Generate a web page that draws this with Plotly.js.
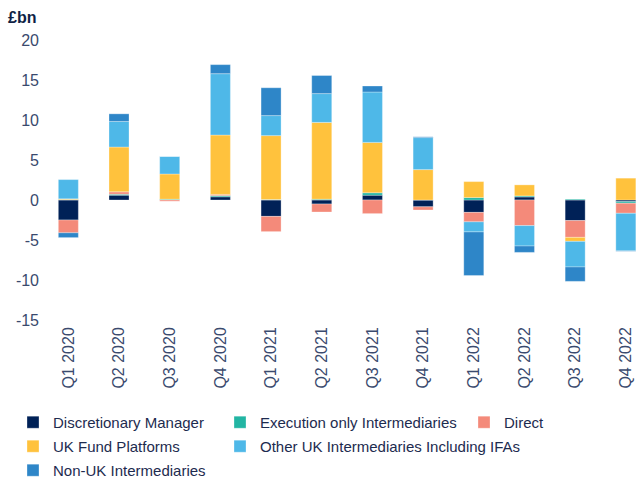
<!DOCTYPE html>
<html>
<head>
<meta charset="utf-8">
<script src="https://cdn.plot.ly/plotly-3.0.1.min.js"></script>
<style>html,body{margin:0;padding:0;background:#fff;}#chart{width:638px;height:478px;}</style>
</head>
<body>
<div id="chart"></div>
<script>
const quarters = ["Q1 2020","Q2 2020","Q3 2020","Q4 2020","Q1 2021","Q2 2021","Q3 2021","Q4 2021","Q1 2022","Q2 2022","Q3 2022","Q4 2022"];
const discretionary = [-2.5, 0.6, 0, 0.4, -2.05, -0.5, 0.6, -0.85, -1.55, 0.38, -2.57, -0.2];
const executionOnly = [0.05, 0.12, 0.1, 0.15, 0.05, 0.1, 0.3, 0, 0.3, 0.13, 0.1, -0.2];
const direct = [-1.6, 0.3, -0.15, 0.15, -1.9, -1.0, -1.7, -0.4, -1.18, -3.2, -2.1, -1.26];
const ukFundPlatforms = [0.1, 5.6, 3.15, 7.42, 8.0, 9.6, 6.3, 3.8, 2.0, 1.38, -0.5, 2.73];
const otherUK = [2.4, 3.2, 2.2, 7.67, 2.5, 3.6, 6.3, 4.0, -1.26, -2.55, -3.2, -4.7];
const nonUK = [-0.6, 0.95, 0, 1.13, 3.48, 2.26, 0.75, 0.1, -5.45, -0.8, -1.8, -0.05];
const yTickVals = [-15, -10, -5, 0, 5, 10, 15, 20];
const yTickText = ["-15", "-10", "-5", "0", "5", "10", "15", "20"];

const names = ["Discretionary Manager","Execution only Intermediaries","Direct","UK Fund Platforms","Other UK Intermediaries Including IFAs","Non-UK Intermediaries"];
const colors = ["#002157","#22b5a3","#f48a7a","#ffc23d","#4eb8e8","#2e86c8"];
const legendIds = ["legend","legend2","legend3","legend","legend2","legend"];
const series = [discretionary, executionOnly, direct, ukFundPlatforms, otherUK, nonUK];

const traces = series.map((vals, i) => ({
  type: "bar",
  name: names[i],
  x: quarters,
  y: vals,
  width: 0.395,
  legend: legendIds[i],
  legendgroup: "g" + i,
  marker: {color: colors[i], line: {color: "rgba(255,255,255,0.6)", width: 0.5}},
  hoverinfo: "x+y+name"
}));

const legendFont = {family: "Liberation Sans, Arial, sans-serif", size: 15, color: "#1d2b4f"};
const legendBase = {orientation: "v", yanchor: "top", xanchor: "left", y: -0.307, font: legendFont, bgcolor: "rgba(0,0,0,0)", tracegroupgap: 1.5, traceorder: "grouped"};

const layout = {
  width: 638, height: 478,
  margin: {l: 43, r: 0, t: 40, b: 158, autoexpand: false},
  paper_bgcolor: "#fff", plot_bgcolor: "#fff",
  barmode: "relative",
  showlegend: true,
  font: {family: "Liberation Sans, Arial, sans-serif", color: "#3a4a6e"},
  xaxis: {
    type: "category",
    range: [-0.5, 11.24],
    tickangle: -90,
    automargin: false,
    ticklabelstandoff: 3,
    tickfont: {size: 16, color: "#3a4a6e"},
    showgrid: false, zeroline: false, showline: false, ticks: ""
  },
  yaxis: {
    range: [-15, 20],
    automargin: false,
    ticklabelstandoff: 3,
    tickmode: "array",
    tickvals: yTickVals,
    ticktext: yTickText,
    tickfont: {size: 16, color: "#3a4a6e"},
    showgrid: false, zeroline: false, showline: false, ticks: ""
  },
  legend: Object.assign({}, legendBase, {x: -0.0504}),
  legend2: Object.assign({}, legendBase, {x: 0.2975}),
  legend3: Object.assign({}, legendBase, {x: 0.7076}),
  annotations: [{
    text: "<b>£bn</b>", xref: "paper", yref: "paper",
    x: -0.008, y: 1.0, xanchor: "right", yanchor: "bottom", yshift: 12,
    showarrow: false,
    font: {family: "Liberation Sans, Arial, sans-serif", size: 16, color: "#0f1f45"}
  }]
};

Plotly.newPlot("chart", traces, layout, {displayModeBar: false, staticPlot: true});
</script>
</body>
</html>
